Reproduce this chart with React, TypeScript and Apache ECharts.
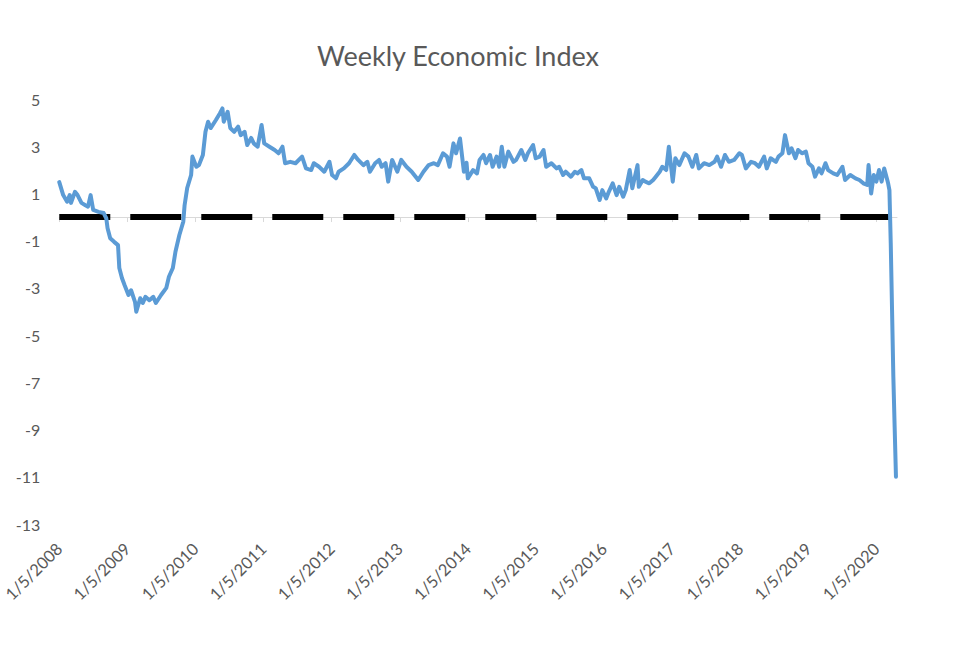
import React, { useEffect, useRef } from "react";
import * as echarts from "echarts";

// Weeks elapsed since 1/5/2008
const weeks = [
  0, 3, 6, 8, 9, 12, 14, 17, 20, 22,
  24, 26, 30, 34, 36, 37, 39, 42, 45, 46,
  48, 50, 53, 55, 58, 59, 62, 64, 66, 69,
  72, 74, 78, 82, 84, 87, 89, 92, 95, 96,
  98, 101, 102, 105, 107, 110, 112, 114, 116, 120,
  123, 125, 126, 129, 131, 134, 137, 139, 142, 144,
  147, 149, 152, 155, 157, 161, 165, 168, 171, 173,
  177, 181, 186, 189, 193, 195, 199, 203, 207, 209,
  212, 214, 218, 222, 226, 229, 233, 236, 238, 242,
  245, 247, 250, 252, 255, 259, 262, 266, 270, 275,
  279, 283, 287, 290, 294, 297, 299, 302, 304, 307,
  310, 312, 313, 317, 320, 322, 325, 327, 330, 332,
  335, 337, 339, 341, 344, 348, 350, 354, 357, 359,
  363, 365, 368, 371, 373, 377, 381, 383, 386, 388,
  392, 395, 397, 400, 402, 406, 409, 411, 414, 416,
  419, 421, 424, 427, 429, 432, 434, 437, 439, 443,
  444, 447, 449, 452, 455, 457, 460, 462, 465, 467,
  470, 472, 475, 479, 482, 485, 488, 490, 494, 498,
  502, 504, 507, 510, 513, 517, 521, 523, 526, 530,
  533, 536, 540, 542, 545, 549, 551, 554, 556, 559,
  561, 564, 566, 569, 572, 574, 577, 579, 582, 584,
  587, 589, 593, 596, 600, 602, 606, 610, 613, 616,
  619, 620, 622, 624, 626, 628, 630, 632, 634, 635,
  636, 637, 638, 639, 640, 641,
];

// Weekly Economic Index values
const wei = [
  1.48, 0.93, 0.65, 0.93, 0.6, 1.07, 0.93, 0.6, 0.5, 0.44,
  0.93, 0.3, 0.22, 0.17, -0.05, -0.47, -0.9, -1.05, -1.19, -2.16,
  -2.58, -2.88, -3.3, -3.1, -3.59, -4.01, -3.44, -3.64, -3.38, -3.52,
  -3.38, -3.64, -3.3, -3.0, -2.53, -2.16, -1.47, -0.76, -0.2, 0.5,
  1.23, 1.78, 2.56, 2.13, 2.2, 2.63, 3.61, 4.04, 3.77, 4.11,
  4.39, 4.6, 4.04, 4.46, 3.77, 3.61, 3.83, 3.47, 3.61, 3.05,
  3.35, 3.12, 2.98, 3.9, 3.12, 2.98, 2.84, 2.7, 2.98, 2.28,
  2.34, 2.28, 2.56, 2.06, 1.99, 2.28, 2.13, 1.92, 2.34, 1.78,
  1.64, 1.92, 2.06, 2.28, 2.63, 2.42, 2.2, 2.34, 1.92, 2.28,
  2.42, 2.13, 2.28, 1.5, 2.42, 1.92, 2.42, 2.13, 1.92, 1.57,
  1.92, 2.2, 2.28, 2.2, 2.7, 2.56, 2.13, 3.12, 2.7, 3.33,
  1.92, 2.3, 1.64, 1.99, 1.85, 2.42, 2.63, 2.28, 2.63, 2.13,
  2.56, 2.13, 2.98, 2.13, 2.77, 2.34, 2.42, 2.84, 2.42, 2.7,
  3.05, 2.49, 2.56, 2.84, 2.13, 2.28, 2.06, 2.13, 1.78, 1.92,
  1.71, 1.92, 1.85, 1.99, 1.64, 1.64, 1.28, 1.22, 0.72, 1.14,
  0.79, 1.07, 1.43, 0.93, 1.28, 0.86, 1.14, 1.99, 1.22, 2.2,
  1.28, 1.57, 1.5, 1.43, 1.57, 1.71, 1.92, 2.13, 1.99, 2.98,
  1.5, 2.49, 2.2, 2.7, 2.56, 2.13, 2.63, 2.06, 2.28, 2.2,
  2.34, 2.56, 2.13, 2.63, 2.34, 2.42, 2.7, 2.63, 2.06, 2.34,
  2.28, 2.13, 2.56, 2.06, 2.49, 2.34, 2.56, 2.7, 3.47, 2.7,
  2.91, 2.49, 2.84, 2.7, 2.77, 2.28, 2.13, 1.71, 2.06, 1.85,
  2.28, 1.99, 1.85, 1.78, 2.13, 1.57, 1.78, 1.64, 1.57, 1.43,
  1.36, 2.2, 1.0, 1.78, 1.5, 1.99, 1.5, 2.06, 1.64, 1.43,
  1.14, -1.1, -3.94, -6.77, -8.9, -11.0,
];

// Zero reference line (dashed)
const baselineWeeks = [0, 641];
const baselineValues = [0, 0];

const yearLabels = [
  "1/5/2008", "1/5/2009", "1/5/2010", "1/5/2011", "1/5/2012", "1/5/2013", "1/5/2014",
  "1/5/2015", "1/5/2016", "1/5/2017", "1/5/2018", "1/5/2019", "1/5/2020",
];

const TITLE = "Weekly Economic Index";
const WEEKS_PER_YEAR = 365.25 / 7;

export default function App() {
  const ref = useRef<HTMLDivElement>(null);

  useEffect(() => {
    if (!ref.current) return;
    const chart = echarts.init(ref.current, null, { renderer: "svg" });
    const yearTicks = yearLabels.map((_, i) => i);
    const labelColor = "#595959";
    const font = "Lato";

    chart.setOption({
      animation: false,
      backgroundColor: "#ffffff",
      textStyle: { fontFamily: font },
      graphic: [
        {
          type: "text",
          x: 458,
          y: 55,
          style: {
            text: TITLE,
            fill: labelColor,
            fontSize: 27,
            fontFamily: font,
            align: "center",
            verticalAlign: "middle",
          },
        },
      ],
      grid: { left: 56, right: 72, top: 99, bottom: 146, containLabel: false },
      xAxis: [
        {
          type: "value",
          min: 0,
          max: 12.3,
          position: "bottom",
          axisLine: { show: true, onZero: true, lineStyle: { color: "#d9d9d9", width: 1 } },
          axisTick: { show: true, customValues: yearTicks, length: 5, lineStyle: { color: "#d9d9d9", width: 1 } },
          axisLabel: { show: false },
          splitLine: { show: false },
        },
        {
          type: "value",
          min: 0,
          max: 12.3,
          position: "bottom",
          axisLine: { show: false, onZero: false },
          axisTick: { show: false },
          splitLine: { show: false },
          axisLabel: {
            show: true,
            customValues: yearTicks,
            rotate: 45,
            margin: 22,
            color: labelColor,
            fontSize: 16.5,
            fontFamily: font,
            formatter: (v: number) => yearLabels[Math.round(v)] ?? "",
          },
        },
      ],
      yAxis: {
        type: "value",
        min: -13,
        max: 5,
        interval: 1,
        axisLine: { show: false },
        axisTick: { show: false },
        splitLine: { show: false },
        axisLabel: {
          color: labelColor,
          fontSize: 16,
          fontFamily: font,
          margin: 19,
          formatter: (v: number) => (Math.abs(Math.round(v)) % 2 === 1 ? String(v) : ""),
        },
      },
      series: [
        {
          type: "line",
          xAxisIndex: 0,
          symbol: "none",
          silent: true,
          data: baselineWeeks.map((w, i) => [w / WEEKS_PER_YEAR, baselineValues[i]]),
          lineStyle: { color: "#000000", width: 6, type: [51, 20], cap: "butt" },
          z: 2,
        },
        {
          type: "line",
          xAxisIndex: 0,
          symbol: "none",
          data: weeks.map((w, i) => [w / WEEKS_PER_YEAR, wei[i]]),
          lineStyle: { color: "#5B9BD5", width: 4, join: "round", cap: "round" },
          z: 3,
        },
      ],
    });

    return () => chart.dispose();
  }, []);

  return (
    <div
      ref={ref}
      style={{ position: "fixed", left: 0, top: 0, width: 969, height: 670, background: "#fff" }}
    />
  );
}
